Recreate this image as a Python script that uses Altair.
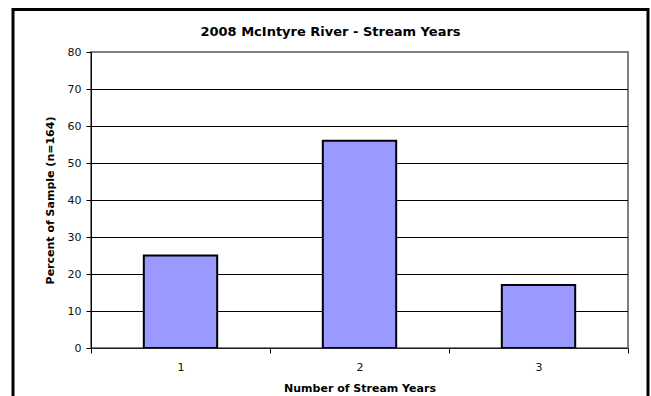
import altair as alt
import pandas as pd

# Stream-year distribution of the 2008 McIntyre River sample
years = ["1", "2", "3"]
percents = [25, 56, 17]
y_ticks = [0, 10, 20, 30, 40, 50, 60, 70, 80]
grid_values = [10, 20, 30, 40, 50, 60, 70]
chart_title = "2008 McIntyre River - Stream Years"

FONT = "DejaVu Sans"

bars_df = pd.DataFrame({"year": years, "percent": percents})
grid_df = pd.DataFrame({"g": grid_values})
single_df = pd.DataFrame({"k": [0]})

y_scale = alt.Scale(domain=[0, 80], nice=False, zero=True)

y_axis = alt.Axis(
    title="Percent of Sample (n=164)",
    values=y_ticks,
    grid=False,
    tickSize=5,
    tickColor="black",
    domainColor="black",
    labelFont=FONT, labelFontSize=11, labelColor="#111",
    labelPadding=5,
    titleFont=FONT, titleFontSize=11, titleFontWeight="bold",
    titleColor="black",
    titleX=-41, titleY=148, titleBaseline="middle", titleAlign="center",
    zindex=1,
)

# outer chart border
frame = alt.Chart(single_df).mark_rect(
    fill=None, stroke="black", strokeWidth=3
).encode(
    x=alt.value(-78), x2=alt.value(557),
    y=alt.value(-42.5), y2=alt.value(380),
)

# chart heading, centred on the outer border
heading = alt.Chart(single_df).mark_text(
    font=FONT, fontSize=13, fontWeight="bold", color="black",
    align="center", baseline="alphabetic",
).encode(
    x=alt.value(239.5), y=alt.value(-16.5), text=alt.value(chart_title)
)

grid = alt.Chart(grid_df).mark_rule(
    color="black", strokeWidth=1, yOffset=0.5
).encode(
    y=alt.Y("g:Q", scale=y_scale, axis=y_axis)
)

bars = alt.Chart(bars_df).mark_bar(
    fill="#9999FF", stroke="black", strokeWidth=2, width={"band": 0.41}
).encode(
    x=alt.X(
        "year:N",
        sort=years,
        scale=alt.Scale(paddingInner=0, paddingOuter=0),
        axis=alt.Axis(
            title="Number of Stream Years",
            labelAngle=0,
            tickBand="extent",
            tickSize=5,
            tickColor="black",
            domainColor="#222",
            labelFont=FONT, labelFontSize=11, labelColor="#111",
            labelPadding=8,
            titleFont=FONT, titleFontSize=11, titleFontWeight="bold",
            titleColor="black",
            titleX=268.5, titleY=40, titleBaseline="middle",
            zindex=1,
        ),
    ),
    y=alt.Y("percent:Q", scale=y_scale, axis=y_axis),
)

chart = alt.layer(frame, heading, grid, bars).properties(
    width=537,
    height=296,
    autosize=alt.AutoSizeParams(type="none"),
    padding={"left": 91, "top": 52, "right": 23, "bottom": 48},
    background="white",
).configure_view(
    stroke="#808080", strokeWidth=2
)

chart.save("out.html", embed_options={"renderer": "svg", "actions": False})
